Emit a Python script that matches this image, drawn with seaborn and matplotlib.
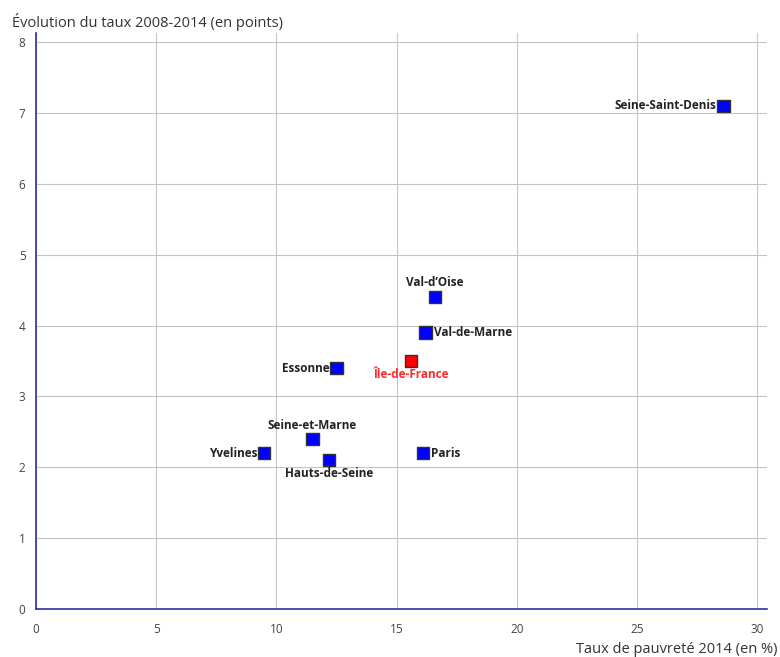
import matplotlib
matplotlib.use('Agg')

import pandas as pd
from matplotlib import pyplot as plt
import seaborn as sns

departements = ['Seine-Saint-Denis', "Val-d\u2019Oise", 'Val-de-Marne', 'Île-de-France', 'Essonne',
                'Seine-et-Marne', 'Yvelines', 'Hauts-de-Seine', 'Paris']
taux_2014 = [28.6, 16.6, 16.2, 15.6, 12.5, 11.5, 9.5, 12.2, 16.1]
evolution = [7.1, 4.4, 3.9, 3.5, 3.4, 2.4, 2.2, 2.1, 2.2]
groupe = ['dep', 'dep', 'dep', 'region', 'dep', 'dep', 'dep', 'dep', 'dep']

# position des étiquettes: (décalage x en points, décalage y en points, alignement)
placement = {
    'Seine-Saint-Denis': (-5, 0, 'right', 'center'),
    "Val-d\u2019Oise": (0, 6, 'center', 'bottom'),
    'Val-de-Marne': (6, 0, 'left', 'center'),
    'Île-de-France': (0, -5, 'center', 'top'),
    'Essonne': (-5, 0, 'right', 'center'),
    'Seine-et-Marne': (0, 5, 'center', 'bottom'),
    'Yvelines': (-5, 0, 'right', 'center'),
    'Hauts-de-Seine': (0, -5, 'center', 'top'),
    'Paris': (6, 0, 'left', 'center'),
}

df = pd.DataFrame({'Département': departements, 'Taux': taux_2014,
                   'Evolution': evolution, 'Groupe': groupe})

sns.set_style('white')
plt.rcParams['font.family'] = ['Open Sans', 'DejaVu Sans']

fig = plt.figure(figsize=(7.8, 6.57), dpi=100)
ax = fig.add_axes([0.046, 0.073, 0.937, 0.877])

sns.scatterplot(data=df, x='Taux', y='Evolution', hue='Groupe',
                palette={'dep': '#0000ff', 'region': '#ff0000'},
                marker='s', s=80, edgecolor='#333333', linewidth=1,
                legend=False, ax=ax, zorder=3)

for _, row in df.iterrows():
    dx, dy, ha, va = placement[row['Département']]
    couleur = '#ff2a2a' if row['Groupe'] == 'region' else '#222222'
    ax.annotate(row['Département'], (row['Taux'], row['Evolution']),
                xytext=(dx, dy), textcoords='offset points',
                ha=ha, va=va, fontsize=8.5, fontweight='bold', color=couleur)

ax.set_xlim(0, 30.4)
ax.set_ylim(0, 8.13)
ax.set_xticks(range(0, 31, 5))
ax.set_yticks(range(0, 9))
ax.grid(True, color='#c4c4c4', linewidth=0.8)
ax.set_axisbelow(True)

for cote in ['top', 'right']:
    ax.spines[cote].set_visible(False)
for cote in ['left', 'bottom']:
    ax.spines[cote].set_color('#3030a8')
    ax.spines[cote].set_linewidth(1.2)

ax.tick_params(axis='both', length=4, color='#999999', labelsize=8.5, labelcolor='#444444')
ax.tick_params(axis='x', pad=6)
ax.set_xlabel('')
ax.set_ylabel('')

fig.text(0.015, 0.967, 'Évolution du taux 2008-2014 (en points)', fontsize=10.5,
         color='#333333', ha='left', va='center')
fig.text(0.997, 0.011, 'Taux de pauvreté 2014 (en %)', fontsize=10.5,
         color='#333333', ha='right', va='center')

plt.savefig('out.png', dpi=100)
